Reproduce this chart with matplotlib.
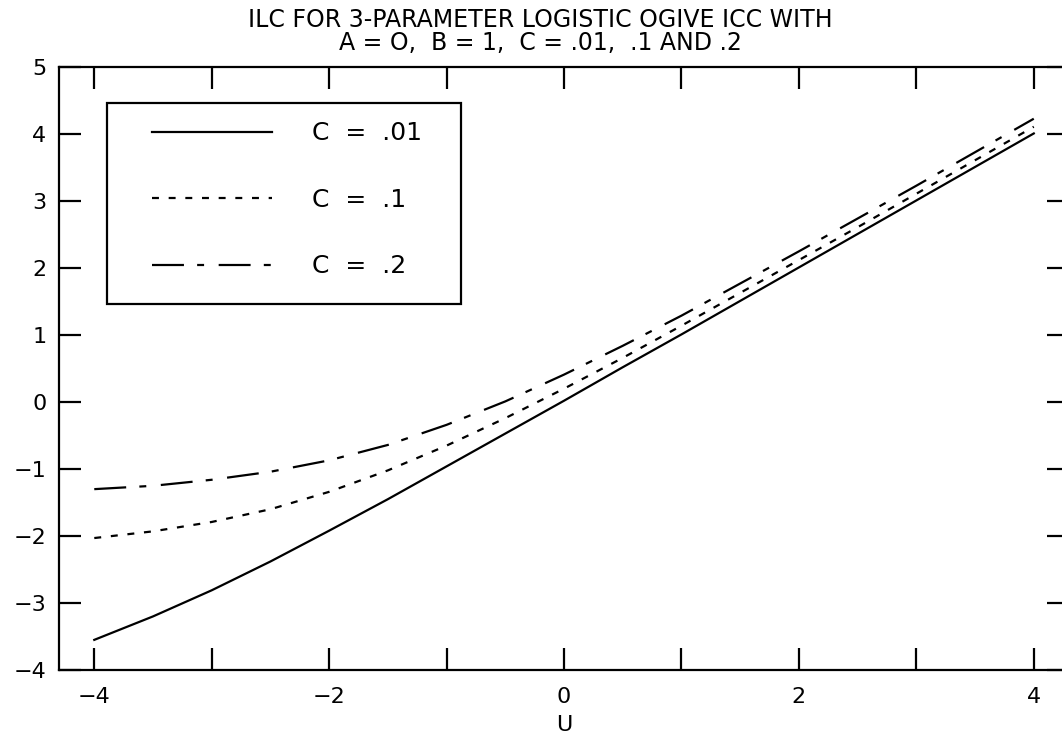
import matplotlib
matplotlib.use("Agg")
import matplotlib.pyplot as plt
from matplotlib.patches import Rectangle

# values, u from -4 to 4 in steps of 0.5
u = [-4, -3.5, -3, -2.5, -2, -1.5, -1, -0.5, 0, 0.5, 1, 1.5, 2, 2.5, 3, 3.5, 4]
ilc_01 = [-3.55, -3.20, -2.81, -2.38, -1.92, -1.45, -0.96, -0.47, 0.02, 0.52,
          1.01, 1.51, 2.01, 2.51, 3.01, 3.51, 4.01]
ilc_1 = [-2.03, -1.93, -1.79, -1.60, -1.34, -1.02, -0.65, -0.24, 0.20, 0.66,
         1.14, 1.63, 2.12, 2.61, 3.11, 3.61, 4.11]
ilc_2 = [-1.30, -1.25, -1.16, -1.04, -0.87, -0.64, -0.34, 0.01, 0.41, 0.84,
         1.29, 1.77, 2.25, 2.74, 3.23, 3.73, 4.23]
labels = ["C  =  .01", "C  =  .1", "C  =  .2"]
xticks = list(range(-4, 5))
xtick_labels = ["\u22124", "", "\u22122", "", "0", "", "2", "", "4"]

plt.rcParams["font.family"] = "DejaVu Sans"
plt.rcParams["lines.scale_dashes"] = False

fig = plt.figure(figsize=(10.62, 7.37), dpi=100)
ax = fig.add_axes([0.0556, 0.0909, 0.951, 0.818])

ax.plot(u, ilc_01, color="black", lw=1.6, label=labels[0])
ax.plot(u, ilc_1, color="black", lw=1.6, linestyle=(0, (5, 7)), label=labels[1])
ax.plot(u, ilc_2, color="black", lw=1.6, linestyle=(0, (23, 9.5, 5, 10.5)), label=labels[2])

ax.set_xlim(-4.3, 4.3)
ax.set_ylim(-4, 5)
ax.set_xticks(xticks)
ax.set_xticklabels(xtick_labels)
ax.set_yticks(range(-4, 6))

ax.tick_params(direction="in", length=16, width=1.6, top=True, right=True,
               labelsize=16, color="black")
ax.tick_params(axis="y", pad=9)
ax.tick_params(axis="x", pad=12)
for s in ax.spines.values():
    s.set_linewidth(1.6)

ax.set_xlabel("U", fontsize=16, labelpad=6)

fig.text(0.509, 0.957, "ILC FOR 3-PARAMETER LOGISTIC OGIVE ICC WITH\n"
         "A = O,  B = 1,  C = .01,  .1 AND .2",
         ha="center", va="center", fontsize=17, linespacing=0.95)

# legend box
ax.add_patch(Rectangle((0.0475, 0.607), 0.35, 0.333, transform=ax.transAxes,
                       fill=False, edgecolor="black", lw=1.6, zorder=3))
ax.legend(loc="upper left", bbox_to_anchor=(0.092, 0.91), borderaxespad=0,
          frameon=False, fontsize=18, handlelength=4.8, handletextpad=1.6,
          labelspacing=1.7, borderpad=0)

fig.savefig("out.png", dpi=100)
